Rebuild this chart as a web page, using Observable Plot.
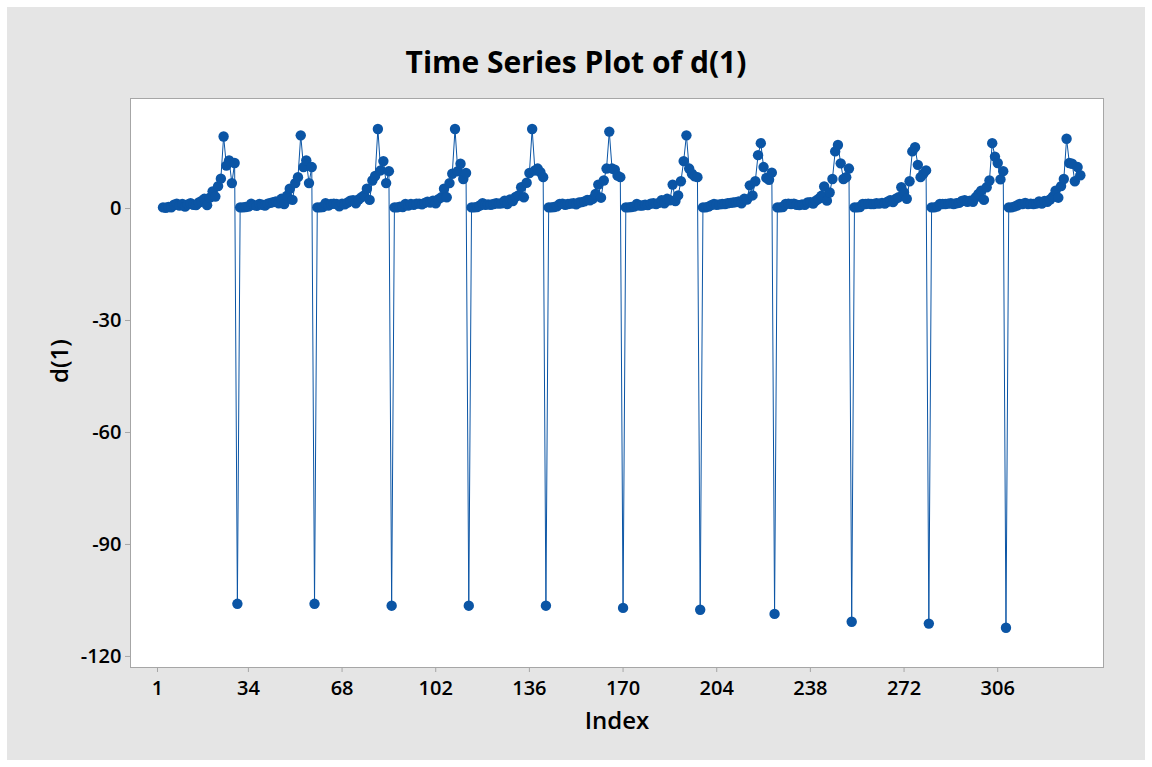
<!DOCTYPE html>
<html>
<head>
<meta charset="utf-8">
<script src="https://cdn.jsdelivr.net/npm/d3@7"></script>
<script src="https://cdn.jsdelivr.net/npm/@observablehq/plot@0.6"></script>
<style>
  html, body { margin: 0; padding: 0; background: #ffffff; }
  #wrap { position: relative; width: 1152px; height: 767px; overflow: hidden; background: #ffffff; font-family: "Open Sans", sans-serif; }
  #panel { position: absolute; left: 7px; top: 7px; width: 1138px; height: 753px; background: #e5e5e5; }
  #title { position: absolute; left: 0; width: 1152px; top: 41px; text-align: center; font-size: 30px; font-weight: 700; color: #000; line-height: normal; }
  #chart { position: absolute; left: 0; top: 0; }
</style>
</head>
<body>
<div id="wrap">
  <div id="panel"></div>
  <div id="title">Time Series Plot of d(1)</div>
  <div id="chart"></div>
</div>
<script>
// ---- Data (d(1) values by cycle) ----
const startIndex = 3;
const cycle1  = [0.3, 0.2, 0.4, 0.3, 1.0, 1.3, 0.8, 1.2, 0.5, 1.1, 1.4, 1.0, 0.9, 1.6, 2.0, 2.6, 0.9, 2.9, 4.6, 3.2, 6.0, 8.0, 19.3, 11.5, 12.9, 6.8, 12.2];
const cycle2  = [0.3, 0.3, 0.4, 0.5, 1.3, 0.9, 0.7, 1.2, 1.0, 0.8, 1.3, 1.5, 1.7, 1.9, 1.4, 2.6, 1.2, 3.4, 5.3, 2.3, 6.8, 8.4, 19.6, 11.1, 12.9, 6.8, 11.1];
const cycle3  = [0.3, 0.3, 0.4, 1.4, 0.8, 1.2, 1.3, 1.2, 0.6, 1.3, 1.1, 1.6, 2.1, 2.2, 1.4, 2.4, 3.0, 3.5, 5.3, 2.3, 7.5, 8.7, 21.3, 10.2, 12.7, 6.8, 10.0];
const cycle4  = [0.3, 0.3, 0.5, 0.4, 1.2, 0.8, 1.2, 1.0, 1.3, 1.3, 1.1, 1.5, 1.8, 1.6, 2.1, 1.4, 2.5, 3.0, 5.3, 3.0, 6.8, 9.3, 21.3, 10.0, 12.0, 7.9, 9.5];
const cycle5  = [0.3, 0.3, 0.4, 0.8, 1.4, 1.0, 1.1, 1.0, 1.2, 1.4, 1.3, 1.4, 2.1, 1.2, 2.4, 2.0, 3.1, 3.5, 5.7, 3.0, 6.9, 9.5, 21.3, 10.2, 10.7, 9.7, 8.4];
const cycle6  = [0.3, 0.3, 0.4, 0.6, 1.2, 1.3, 1.0, 1.2, 1.3, 1.4, 1.1, 1.6, 1.7, 1.9, 2.3, 2.2, 2.6, 3.9, 6.4, 2.9, 7.5, 10.7, 20.6, 10.7, 10.4, 8.8, 8.4];
const cycle7  = [0.3, 0.3, 0.4, 0.5, 1.2, 0.8, 0.8, 1.0, 0.9, 1.3, 1.4, 1.2, 1.5, 2.2, 1.4, 2.6, 2.2, 6.4, 2.0, 3.5, 7.3, 12.7, 19.6, 10.7, 9.3, 8.6, 8.4];
const cycle8  = [0.3, 0.3, 0.5, 0.9, 1.2, 1.0, 1.1, 1.2, 1.2, 1.4, 1.5, 1.6, 1.7, 1.9, 1.4, 2.6, 2.4, 6.2, 3.5, 7.3, 14.3, 17.5, 11.1, 8.2, 7.7, 9.6];
const cycle9  = [0.3, 0.3, 0.4, 1.2, 1.3, 1.2, 1.3, 1.0, 0.9, 1.1, 1.0, 1.6, 1.7, 1.3, 2.1, 2.6, 3.4, 5.9, 2.1, 4.3, 7.9, 15.3, 17.0, 12.1, 7.9, 8.4, 10.7];
const cycle10 = [0.3, 0.3, 0.4, 1.2, 1.2, 1.3, 1.2, 1.2, 1.4, 1.3, 1.5, 1.3, 1.8, 2.2, 1.7, 2.6, 3.0, 5.7, 4.3, 2.6, 7.3, 15.3, 16.4, 11.7, 8.4, 9.3, 10.2];
const cycle11 = [0.3, 0.3, 0.5, 1.2, 1.2, 1.2, 1.3, 1.4, 1.2, 1.4, 1.5, 2.0, 2.2, 1.8, 2.1, 1.8, 3.0, 3.9, 4.8, 2.3, 5.7, 7.5, 17.5, 13.9, 12.2, 7.8, 10.0];
const cycle12 = [0.3, 0.3, 0.5, 0.8, 1.2, 1.2, 1.5, 1.2, 1.3, 1.2, 1.3, 1.9, 1.3, 2.0, 1.8, 2.4, 3.2, 4.8, 2.9, 6.0, 7.9, 18.7, 12.2, 12.0, 7.3, 11.1, 8.9];
const drops   = [-105.9, -105.9, -106.4, -106.4, -106.4, -107.0, -107.5, -108.6, -110.7, -111.2, -112.3];

const xTicks = [1, 34, 68, 102, 136, 170, 204, 238, 272, 306];
const yTicks = [0, -30, -60, -90, -120];

const cycles = [cycle1, cycle2, cycle3, cycle4, cycle5, cycle6, cycle7, cycle8, cycle9, cycle10, cycle11, cycle12];
const series = [];
let idx = startIndex;
cycles.forEach((c, i) => {
  c.forEach(v => series.push({index: idx++, value: v}));
  if (i < drops.length) series.push({index: idx++, value: drops[i]});
});

const blue = "#0b55a5";
const axisGray = "#a6a6a6";

const chart = Plot.plot({
  width: 1152,
  height: 767,
  marginLeft: 130,
  marginRight: 49,
  marginTop: 98,
  marginBottom: 100,
  style: { background: "transparent", fontFamily: '"Open Sans", sans-serif', color: "#000", overflow: "visible" },
  x: { domain: [-8.8, 344.4] },
  y: { domain: [-122.96, 29.47] },
  marks: [
    Plot.frame({ fill: "white", stroke: null }),
    Plot.axisX(xTicks, { tickSize: 5, tickPadding: 8, fontSize: 20, fontWeight: 600, stroke: axisGray, fill: "#000", label: null, tickFormat: d => String(d) }),
    Plot.axisY(yTicks, { tickSize: 5, tickPadding: 4, fontSize: 20, fontWeight: 600, stroke: axisGray, fill: "#000", label: null, tickFormat: d => String(d) }),
    Plot.line(series, { x: "index", y: "value", stroke: blue, strokeWidth: 1 }),
    Plot.dot(series, { x: "index", y: "value", r: 5.2, fill: blue }),
    Plot.frame({ stroke: axisGray }),
    Plot.text(["Index"], { text: d => d, frameAnchor: "bottom", dy: 61, fontSize: 24, fontWeight: 600, fill: "#000" }),
    Plot.text(["d(1)"], { text: d => d, frameAnchor: "left", dx: -70, rotate: -90, fontSize: 24, fontWeight: 600, fill: "#000" })
  ]
});
document.getElementById("chart").appendChild(chart);
</script>
</body>
</html>
